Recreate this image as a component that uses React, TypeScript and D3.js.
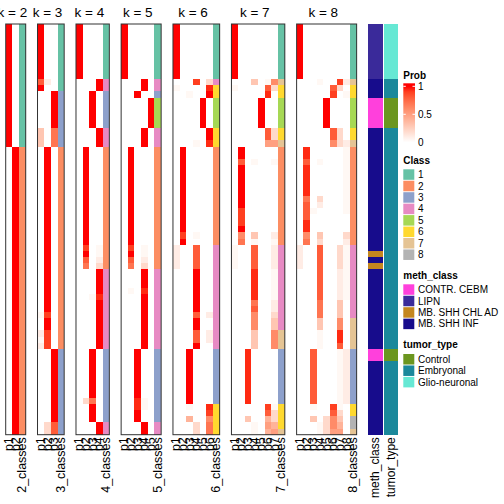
import React from "react";
import * as d3 from "d3";

// ---------- data ----------
const kList = [2, 3, 4, 5, 6, 7, 8];
const nRows = 67;

// probability codes: one char per column p1..pk
const probCode: Record<string, number> = {
  "0": 0, f: 0.04, "1": 0.1, "2": 0.2, "3": 0.3, "4": 0.4, "5": 0.5,
  "6": 0.6, "7": 0.7, "8": 0.8, "9": 0.9, x: 0.95, a: 1,
};

// segments: [fromRow, toRow, probabilities p1..pk, class]
type Seg = [number, number, string, number];
const k2Segs: Seg[] = [
  [0, 19, "a0", 1],
  [20, 66, "0a", 2],
];
const k3Segs: Seg[] = [
  [0, 8, "a00", 1], [9, 9, "810", 1], [10, 10, "a00", 1], [11, 16, "00a", 3],
  [17, 19, "307", 3], [20, 46, "0a0", 2], [47, 47, "f90", 2], [48, 49, "0a0", 2],
  [50, 50, "190", 2], [51, 51, "f90", 2], [52, 52, "190", 2], [53, 64, "00a", 3],
  [65, 66, "028", 3],
];
const k4Segs: Seg[] = [
  [0, 8, "a000", 1], [9, 10, "000a", 4], [11, 16, "00a0", 3], [17, 19, "000a", 4],
  [20, 35, "0a00", 2], [36, 36, "090f", 2], [37, 37, "0a0f", 2], [38, 38, "0801", 2],
  [39, 39, "0702", 2], [40, 43, "000a", 4], [44, 44, "00fx", 4], [45, 52, "000a", 4],
  [53, 60, "00a0", 3], [61, 61, "0270", 3], [62, 64, "00a0", 3], [65, 66, "000a", 4],
];
const k5Segs: Seg[] = [
  [0, 8, "a0000", 1], [9, 10, "000a0", 4], [11, 11, "00a00", 3], [12, 16, "0000a", 5],
  [17, 19, "000a0", 4], [20, 35, "0a000", 2], [36, 36, "090f0", 2], [37, 37, "0a0f0", 2],
  [38, 38, "08010", 2], [39, 39, "07020", 2], [40, 42, "000a0", 4], [43, 43, "0f0x0", 4],
  [44, 52, "000a0", 4], [53, 60, "00a00", 3], [61, 62, "00xf0", 3], [63, 64, "00a00", 3],
  [65, 66, "000a0", 4],
];
const k6Segs: Seg[] = [
  [0, 8, "a00000", 1], [9, 9, "000902", 4], [10, 10, "f0000x", 6], [11, 11, "00f00a", 6],
  [12, 16, "0000a0", 5], [17, 18, "00000a", 6], [19, 19, "000f0x", 6], [20, 33, "0a0000", 2],
  [34, 34, "090f00", 2], [35, 35, "0a0000", 2], [36, 39, "100800", 4], [40, 46, "000a00", 4],
  [47, 47, "000801", 4], [48, 49, "000a00", 4], [50, 51, "000801", 4], [52, 52, "000a00", 4],
  [53, 61, "00a000", 3], [62, 62, "00f00x", 6], [63, 63, "000009", 6], [64, 64, "004006", 6],
  [65, 66, "000207", 6],
];
const k7Segs: Seg[] = [
  [0, 8, "a000000", 1], [9, 9, "00030f6", 7], [10, 10, "f000082", 6], [11, 11, "00000x0", 6],
  [12, 16, "0000a00", 5], [17, 18, "0000082", 6], [19, 19, "0000055", 7], [20, 21, "0a00000", 2],
  [22, 22, "080f00f", 2], [23, 29, "0a00000", 2], [30, 32, "0900000", 2], [33, 33, "0a00000", 2],
  [34, 34, "0603001", 2], [35, 35, "070f00f", 2], [36, 39, "f008001", 4], [40, 44, "000x00f", 4],
  [45, 45, "0007001", 4], [46, 46, "0008001", 4], [47, 47, "0006002", 4], [48, 49, "0006003", 4],
  [50, 52, "0003006", 7], [53, 61, "00x0000", 3], [62, 62, "000009f", 6], [63, 63, "0000082", 6],
  [64, 64, "0030042", 6], [65, 65, "000f054", 6], [66, 66, "000f045", 7],
];
const k8Segs: Seg[] = [
  [0, 8, "a0000000", 1], [9, 9, "000f0091", 7], [10, 10, "00000820", 6], [11, 11, "0000090f", 6],
  [12, 16, "0000a000", 5], [17, 18, "00000820", 6], [19, 19, "00000621", 7], [20, 21, "0x00000f", 2],
  [22, 22, "080f000f", 2], [23, 27, "0x00000f", 2], [28, 28, "0702000f", 2], [29, 29, "0801000f", 2],
  [30, 30, "08f0000f", 2], [31, 31, "08000000", 2], [32, 33, "0x000000", 2], [34, 34, "06030002", 2],
  [35, 35, "07020001", 2], [36, 39, "1008002f", 4], [40, 44, "0008001f", 4], [45, 47, "00070030", 4],
  [48, 49, "00030060", 7], [50, 51, "000f00x0", 7], [52, 52, "000f0080", 7], [53, 61, "008000f1", 3],
  [62, 62, "00f009f0", 6], [63, 63, "00000820", 6], [64, 64, "00302630", 8], [65, 65, "000f2640", 8],
  [66, 66, "000f2550", 7],
];
const segsByK = [k2Segs, k3Segs, k4Segs, k5Segs, k6Segs, k7Segs, k8Segs];

const classLabels = ["1", "2", "3", "4", "5", "6", "7", "8"];
const classColors = ["#66C2A5", "#FC8D62", "#8DA0CB", "#E78AC3", "#A6D854", "#FFD92F", "#E5C494", "#B3B3B3"];

const methClassNames = ["CONTR. CEBM", "LIPN", "MB. SHH CHL AD", "MB. SHH INF"];
const methClassColors = ["#FF40DC", "#3A2A9A", "#C4861E", "#170C8C"];
// [fromRow, toRow, index into methClassNames]
const methClassRuns: [number, number, number][] = [
  [0, 8, 1], [9, 11, 3], [12, 16, 0], [17, 36, 3], [37, 37, 2], [38, 38, 3],
  [39, 39, 2], [40, 52, 3], [53, 54, 0], [55, 66, 3],
];

const tumorTypeNames = ["Control", "Embryonal", "Glio-neuronal"];
const tumorTypeColors = ["#6B961F", "#1A889B", "#66E8D4"];
const tumorTypeRuns: [number, number, number][] = [
  [0, 8, 2], [9, 11, 1], [12, 16, 0], [17, 52, 1], [53, 54, 0], [55, 66, 1],
];

const probTicks = [0, 0.5, 1];

// ---------- layout ----------
const FONT = "'Liberation Sans', Arial, Helvetica, sans-serif";
const top = 24;
const bottom = 434.7;
const x0 = 5.7;
const cellW = 6.67;
const gapW = 11.8;

export default function App() {
  const rowScale = d3.scaleBand<number>().domain(d3.range(nRows)).range([top, bottom]);
  const rh = rowScale.bandwidth();
  const probColor = d3
    .scaleLinear<string>()
    .domain([0, 1])
    .range(["#ffffff", "#ff0000"])
    .interpolate(d3.interpolateLab);

  let acc = x0;
  const panels = kList.map((k, i) => {
    const x = acc;
    const w = (k + 1) * cellW;
    acc += w + gapW;
    const col = d3.scaleBand<number>().domain(d3.range(k + 1)).range([x, x + w]);
    return { k, x, w, col, segs: segsByK[i] };
  });

  const methX = 368;
  const methW = 14.7;
  const tumX = 384;
  const tumW = 14;

  // legend
  const lx = 403.3;
  const legScale = d3.scaleLinear().domain([0, 1]).range([142.3, 86.3]);
  const barTop = 83.3;
  const barBot = 142.3;
  const gradStops = d3.range(0, 11).map((i) => i / 10);
  const itemStep = 11.45;
  const sw = 11;
  const swH = 10.5;

  const classLegTop = 169.3;
  const methLegTop = 284.3;
  const tumLegTop = 354;

  return (
    <svg
      width={504}
      height={504}
      style={{ position: "absolute", left: 0, top: 0, background: "#fff" }}
      fontFamily={FONT}
    >
      <defs>
        <linearGradient id="probGrad" x1="0" y1="0" x2="0" y2="1">
          <stop offset={0} stopColor={probColor(1)} />
          {gradStops.map((t) => (
            <stop
              key={t}
              offset={(legScale(1 - t) - barTop) / (barBot - barTop)}
              stopColor={probColor(1 - t)}
            />
          ))}
        </linearGradient>
      </defs>

      {panels.map((p) => (
        <g key={p.k}>
          {p.segs.map((s, si) => {
            const y = rowScale(s[0]) as number;
            const h = (rowScale(s[1]) as number) + rh - y;
            return (
              <g key={si}>
                {s[2].split("").map((c, j) => (
                  <rect
                    key={j}
                    x={p.col(j)}
                    y={y}
                    width={p.col.bandwidth()}
                    height={h}
                    fill={probColor(probCode[c])}
                    shapeRendering="crispEdges"
                  />
                ))}
                <rect
                  x={p.col(p.k)}
                  y={y}
                  width={p.col.bandwidth()}
                  height={h}
                  fill={classColors[s[3] - 1]}
                  shapeRendering="crispEdges"
                />
              </g>
            );
          })}
          <rect x={p.x} y={top} width={p.w} height={bottom - top} fill="none" stroke="#333" strokeWidth={1} />
          <text
            x={p.x + (p.k * cellW) / 2}
            y={16.5}
            textAnchor="middle"
            fontSize={13.5}
          >{`k = ${p.k}`}</text>
          {d3.range(p.k + 1).map((j) => {
            const cx = (p.col(j) as number) + p.col.bandwidth() / 2;
            const label = j < p.k ? `p${j + 1}` : `${p.k}_classes`;
            return (
              <text
                key={j}
                transform={`translate(${cx},${bottom + 2.5}) rotate(-90)`}
                textAnchor="end"
                dominantBaseline="central"
                fontSize={12.5}
              >
                {label}
              </text>
            );
          })}
        </g>
      ))}

      {methClassRuns.map((r, i) => {
        const y = rowScale(r[0]) as number;
        const h = (rowScale(r[1]) as number) + rh - y;
        return (
          <rect key={i} x={methX} y={y} width={methW} height={h} fill={methClassColors[r[2]]} shapeRendering="crispEdges" />
        );
      })}
      {tumorTypeRuns.map((r, i) => {
        const y = rowScale(r[0]) as number;
        const h = (rowScale(r[1]) as number) + rh - y;
        return (
          <rect key={i} x={tumX} y={y} width={tumW} height={h} fill={tumorTypeColors[r[2]]} shapeRendering="crispEdges" />
        );
      })}
      <text transform={`translate(${methX + methW / 2},${bottom + 2.5}) rotate(-90)`} textAnchor="end" dominantBaseline="central" fontSize={12}>
        meth_class
      </text>
      <text transform={`translate(${tumX + tumW / 2},${bottom + 2.5}) rotate(-90)`} textAnchor="end" dominantBaseline="central" fontSize={12}>
        tumor_type
      </text>

      {/* Prob legend */}
      <text x={lx} y={79} fontSize={10} fontWeight="bold">Prob</text>
      <rect x={lx} y={barTop} width={11.7} height={barBot - barTop} fill="url(#probGrad)" />
      {probTicks.map((t) => (
        <g key={t}>
          <line x1={lx} x2={lx + 2.5} y1={legScale(t)} y2={legScale(t)} stroke="#fff" strokeWidth={1} />
          <line x1={lx + 9.2} x2={lx + 11.7} y1={legScale(t)} y2={legScale(t)} stroke="#fff" strokeWidth={1} />
          <text x={418} y={legScale(t)} dy="0.35em" fontSize={10}>{String(t)}</text>
        </g>
      ))}

      {/* Class legend */}
      <text x={lx} y={163.5} fontSize={10} fontWeight="bold">Class</text>
      {classLabels.map((c, i) => (
        <g key={c}>
          <rect x={lx} y={classLegTop + i * itemStep} width={sw} height={swH} fill={classColors[i]} />
          <text x={418} y={classLegTop + i * itemStep + swH / 2} dy="0.35em" fontSize={10}>{c}</text>
        </g>
      ))}

      {/* meth_class legend */}
      <text x={lx} y={278.7} fontSize={10} fontWeight="bold">meth_class</text>
      {methClassNames.map((c, i) => (
        <g key={c}>
          <rect x={lx} y={methLegTop + i * itemStep} width={sw} height={swH} fill={methClassColors[i]} />
          <text x={418} y={methLegTop + i * itemStep + swH / 2} dy="0.35em" fontSize={10}>{c}</text>
        </g>
      ))}

      {/* tumor_type legend */}
      <text x={lx} y={348.3} fontSize={10} fontWeight="bold">tumor_type</text>
      {tumorTypeNames.map((c, i) => (
        <g key={c}>
          <rect x={lx} y={tumLegTop + i * itemStep} width={sw} height={swH} fill={tumorTypeColors[i]} />
          <text x={418} y={tumLegTop + i * itemStep + swH / 2} dy="0.35em" fontSize={10}>{c}</text>
        </g>
      ))}
    </svg>
  );
}
